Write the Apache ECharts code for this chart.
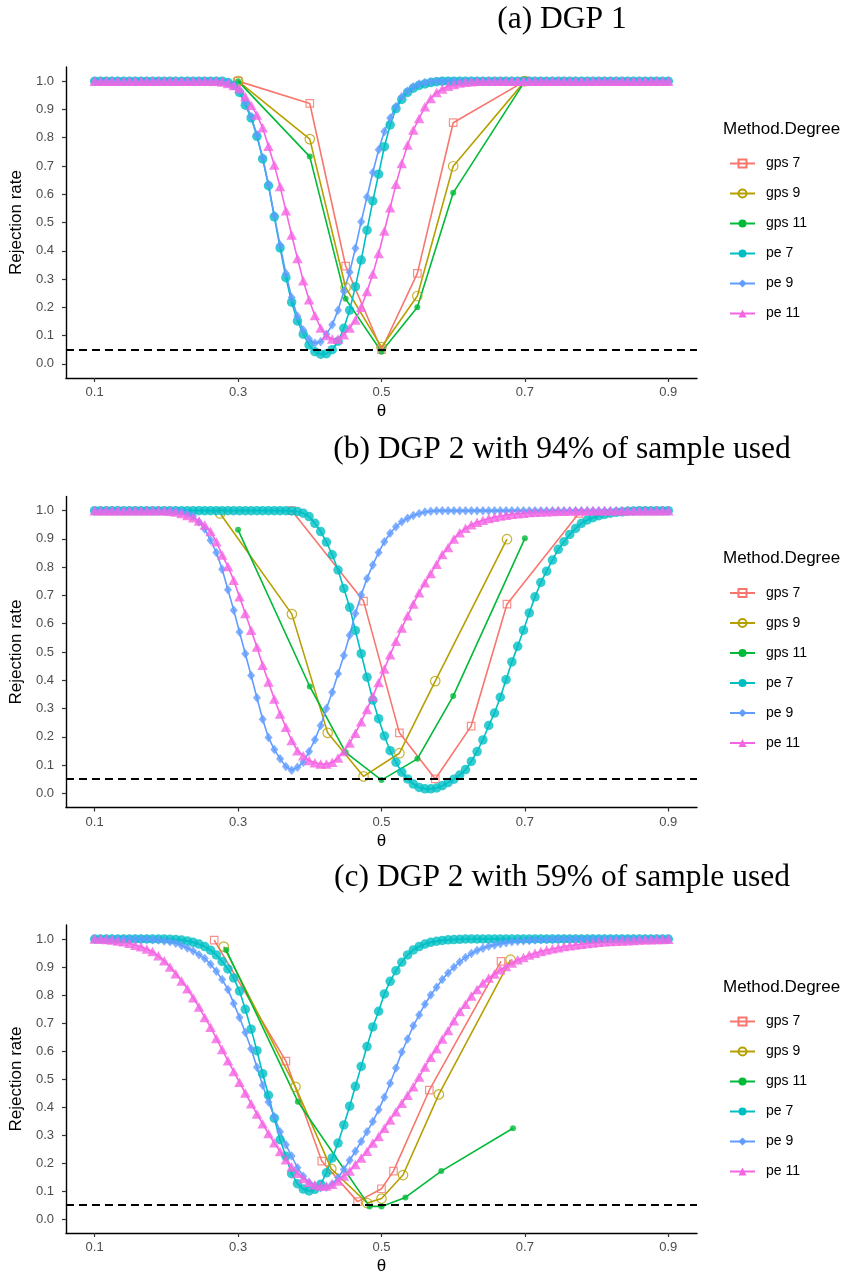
<!DOCTYPE html>
<html><head><meta charset="utf-8">
<script src="https://cdn.jsdelivr.net/npm/echarts@6/dist/echarts.min.js"></script>
<style>html,body{margin:0;padding:0;background:#fff}#c{width:859px;height:1276px}</style>
</head><body><div id="c"></div>
<script>
// ---------- DATA ----------
const theta = [0.1000,0.1081,0.1162,0.1242,0.1323,0.1404,0.1485,0.1566,0.1646,0.1727,
0.1808,0.1889,0.1970,0.2051,0.2131,0.2212,0.2293,0.2374,0.2455,0.2535,
0.2616,0.2697,0.2778,0.2859,0.2939,0.3020,0.3101,0.3182,0.3263,0.3343,
0.3424,0.3505,0.3586,0.3667,0.3747,0.3828,0.3909,0.3990,0.4071,0.4152,
0.4232,0.4313,0.4394,0.4475,0.4556,0.4636,0.4717,0.4798,0.4879,0.4960,
0.5040,0.5121,0.5202,0.5283,0.5364,0.5444,0.5525,0.5606,0.5687,0.5768,
0.5848,0.5929,0.6010,0.6091,0.6172,0.6253,0.6333,0.6414,0.6495,0.6576,
0.6657,0.6737,0.6818,0.6899,0.6980,0.7061,0.7141,0.7222,0.7303,0.7384,
0.7465,0.7545,0.7626,0.7707,0.7788,0.7869,0.7949,0.8030,0.8111,0.8192,
0.8273,0.8354,0.8434,0.8515,0.8596,0.8677,0.8758,0.8838,0.8919,0.9000];

// Panel (a) DGP 1
const pe7_a = [1,1,1,1,1,1,1,1,1,1, 1,1,1,1,1,1,1,1,1,1,
1,1,1,0.995,0.985,0.96,0.915,0.87,0.805,0.725,
0.63,0.52,0.41,0.305,0.218,0.152,0.105,0.067,0.043,0.034,
0.036,0.05,0.08,0.126,0.19,0.273,0.367,0.473,0.576,0.671,
0.768,0.845,0.903,0.935,0.96,0.975,0.985,0.99,0.995,0.998,
1,1,1,1,1,1,1,1,1,1, 1,1,1,1,1,1,1,1,1,1, 1,1,1,1,1,1,1,1,1,1, 1,1,1,1,1,1,1,1,1,1];
const pe9_a = [1,1,1,1,1,1,1,1,1,1, 1,1,1,1,1,1,1,1,1,1,
1,1,1,0.995,0.985,0.965,0.925,0.875,0.81,0.73,
0.635,0.525,0.42,0.32,0.235,0.168,0.12,0.088,0.073,0.078,
0.105,0.138,0.19,0.257,0.324,0.409,0.503,0.59,0.677,0.757,
0.822,0.87,0.91,0.945,0.965,0.98,0.99,0.995,0.998,1,
1,1,1,1,1,1,1,1,1,1, 1,1,1,1,1,1,1,1,1,1, 1,1,1,1,1,1,1,1,1,1, 1,1,1,1,1,1,1,1,1,1];
const pe11_a = [1,1,1,1,1,1,1,1,1,1, 1,1,1,1,1,1,1,1,1,1,
1,1,0.997,0.992,0.985,0.974,0.945,0.915,0.88,0.835,
0.77,0.703,0.627,0.542,0.456,0.373,0.294,0.227,0.171,0.127,
0.1,0.088,0.088,0.103,0.127,0.155,0.2,0.256,0.318,0.39,
0.47,0.552,0.635,0.709,0.774,0.827,0.868,0.909,0.939,0.96,
0.972,0.982,0.988,0.993,0.996,0.998,1,1,1,1,
1,1,1,1,1,1,1,1,1,1, 1,1,1,1,1,1,1,1,1,1, 1,1,1,1,1,1,1,1,1,1];
const gps7x_a = [0.3,0.4,0.45,0.5,0.55,0.6,0.7];
const gps7y_a = [1.0,0.921,0.346,0.05,0.32,0.853,1.0];
const gps9x_a = [0.3,0.4,0.45,0.5,0.55,0.6,0.7];
const gps9y_a = [1.0,0.795,0.27,0.059,0.24,0.699,1.0];
const gps11x_a = [0.3,0.4,0.45,0.5,0.55,0.6,0.7];
const gps11y_a = [1.0,0.733,0.23,0.043,0.2,0.605,1.0];

// Panel (b) DGP 2, 94%
const pe7_b = [1,1,1,1,1,1,1,1,1,1, 1,1,1,1,1,1,1,1,1,1, 1,1,1,1,1,1,1,1,1,1,
1,1,1,1,0.999,0.997,0.991,0.979,0.955,0.926,
0.889,0.844,0.79,0.725,0.658,0.576,0.494,0.411,0.33,0.264,
0.203,0.151,0.11,0.075,0.051,0.033,0.021,0.016,0.016,0.019,
0.027,0.038,0.05,0.065,0.084,0.113,0.148,0.189,0.24,0.284,
0.34,0.402,0.465,0.52,0.577,0.638,0.695,0.746,0.786,0.825,
0.863,0.89,0.916,0.937,0.955,0.967,0.975,0.982,0.987,0.991,
0.994,0.996,0.998,0.999,1,1,1,1,1,1];
const pe9_b = [1,1,1,1,1,1,1,1,1,1,
1,1,1,1,1,0.997,0.99,0.98,0.96,0.935,
0.895,0.852,0.793,0.72,0.648,0.571,0.494,0.417,0.338,0.262,
0.198,0.155,0.122,0.095,0.082,0.092,0.11,0.148,0.19,0.24,
0.3,0.358,0.423,0.488,0.559,0.636,0.702,0.76,0.808,0.852,
0.89,0.92,0.943,0.961,0.973,0.983,0.99,0.995,0.998,1,
1,1,1,1,1,1,1,1,1,1, 1,1,1,1,1,1,1,1,1,1, 1,1,1,1,1,1,1,1,1,1, 1,1,1,1,1,1,1,1,1,1];
const pe11_b = [1,1,1,1,1,1,1,1,1,1,
1,1,1,0.998,0.995,0.99,0.983,0.975,0.963,0.949,
0.926,0.89,0.843,0.802,0.754,0.695,0.636,0.577,0.518,0.453,
0.394,0.334,0.281,0.234,0.187,0.151,0.133,0.116,0.108,0.104,
0.104,0.11,0.125,0.148,0.178,0.213,0.253,0.297,0.343,0.392,
0.44,0.49,0.538,0.585,0.628,0.67,0.71,0.745,0.778,0.81,
0.845,0.87,0.9,0.922,0.938,0.95,0.959,0.966,0.972,0.977,
0.981,0.984,0.987,0.989,0.991,0.993,0.994,0.995,0.996,0.997,
0.998,0.998,0.999,1,1,1,1,1,1,1, 1,1,1,1,1,1,1,1,1,1];
const gps7x_b = [0.375,0.475,0.525,0.575,0.625,0.675,0.775];
const gps7y_b = [1.0,0.68,0.214,0.051,0.238,0.669,0.99];
const gps9x_b = [0.275,0.375,0.425,0.475,0.525,0.575,0.675];
const gps9y_b = [0.99,0.634,0.214,0.06,0.142,0.397,0.899];
const gps11x_b = [0.3,0.4,0.45,0.5,0.55,0.6,0.7];
const gps11y_b = [0.932,0.378,0.145,0.047,0.122,0.344,0.902];

// Panel (c) DGP 2, 59%
const pe7_c = [1,1,1,1,1,1,1,1,1,1,
1,1,1,0.999,0.998,0.996,0.993,0.988,0.982,0.973,
0.96,0.943,0.92,0.893,0.861,0.814,0.749,0.678,0.601,0.519,
0.442,0.36,0.283,0.224,0.162,0.126,0.107,0.1,0.106,0.124,
0.165,0.218,0.271,0.336,0.403,0.474,0.545,0.616,0.686,0.742,
0.804,0.849,0.887,0.917,0.943,0.961,0.973,0.982,0.988,0.992,
0.995,0.997,0.998,0.999,1,1,1,1,1,1,
1,1,1,1,1,1,1,1,1,1, 1,1,1,1,1,1,1,1,1,1, 1,1,1,1,1,1,1,1,1,1];
const pe9_c = [1,1,1,1,1,1,1,1,1,1,
0.998,0.996,0.993,0.99,0.985,0.977,0.968,0.957,0.944,0.93,
0.91,0.885,0.855,0.82,0.77,0.72,0.666,0.608,0.542,0.478,
0.418,0.365,0.312,0.265,0.225,0.183,0.153,0.13,0.118,0.112,
0.113,0.125,0.148,0.177,0.21,0.242,0.277,0.312,0.348,0.39,
0.435,0.485,0.539,0.596,0.643,0.69,0.729,0.767,0.8,0.828,
0.855,0.879,0.899,0.918,0.934,0.948,0.959,0.967,0.974,0.979,
0.983,0.987,0.99,0.992,0.994,0.995,0.996,0.997,0.998,0.999,
1,1,1,1,1,1,1,1,1,1, 1,1,1,1,1,1,1,1,1,1];
const pe11_c = [1,1,0.998,0.996,0.993,0.99,0.985,0.978,0.972,0.964,
0.955,0.94,0.922,0.9,0.876,0.85,0.822,0.79,0.757,0.72,
0.685,0.645,0.605,0.565,0.527,0.488,0.45,0.412,0.375,0.34,
0.305,0.272,0.241,0.212,0.186,0.163,0.145,0.131,0.122,0.118,
0.118,0.124,0.136,0.154,0.171,0.195,0.218,0.242,0.271,0.295,
0.324,0.354,0.383,0.413,0.442,0.472,0.507,0.543,0.578,0.608,
0.643,0.673,0.708,0.741,0.767,0.796,0.82,0.843,0.861,0.875,
0.89,0.902,0.914,0.926,0.934,0.943,0.949,0.955,0.961,0.965,
0.969,0.973,0.976,0.979,0.981,0.984,0.986,0.988,0.99,0.991,
0.992,0.993,0.994,0.995,0.996,0.997,0.997,0.998,0.998,0.999];
const gps7x_c = [0.2667,0.3667,0.4167,0.4667,0.5,0.5167,0.5667,0.6667];
const gps7y_c = [0.996,0.564,0.207,0.062,0.108,0.171,0.46,0.92];
const gps9x_c = [0.28,0.38,0.43,0.48,0.5,0.53,0.58,0.68];
const gps9y_c = [0.973,0.472,0.179,0.057,0.073,0.157,0.445,0.926];
const gps11x_c = [0.2834,0.3834,0.4834,0.5,0.5334,0.5834,0.6834];
const gps11y_c = [0.961,0.419,0.045,0.045,0.077,0.171,0.324];

const panelTitles = ['(a) DGP 1', '(b) DGP 2 with 94% of sample used', '(c) DGP 2 with 59% of sample used'];
const seriesNames = ['gps 7','gps 9','gps 11','pe 7','pe 9','pe 11'];
const xTicks = [0.1,0.3,0.5,0.7,0.9];
const yTicks = [0,0.1,0.2,0.3,0.4,0.5,0.6,0.7,0.8,0.9,1.0];
const refLevel = 0.05;

// ---------- STYLE / LAYOUT ----------
const panelTops = [67, 496.5, 925];
const gridLeft = 64, gridWidth = 633, gridHeight = 311;
const style = {
  'gps 7':  {color:'#F8766D', symbol:'rect',    size:7.5,    open:true},
  'gps 9':  {color:'#B79F00', symbol:'circle',  size:9.5,    open:true},
  'gps 11': {color:'#00BA38', symbol:'circle',  size:6,      open:false},
  'pe 7':   {color:'#00BFC4', symbol:'circle',  size:9.5,    open:false},
  'pe 9':   {color:'#619CFF', symbol:'diamond', size:[8,9.5],  open:false},
  'pe 11':  {color:'#F564E3', symbol:'triangle',size:[10.5,9.5], open:false}
};
const SANS = '"Liberation Sans", Arial, sans-serif';

function pairs(xs, ys){ return xs.map((x,k)=>[x, ys[k]]); }
const panelData = [
  {'gps 7':pairs(gps7x_a,gps7y_a),'gps 9':pairs(gps9x_a,gps9y_a),'gps 11':pairs(gps11x_a,gps11y_a),
   'pe 7':pairs(theta,pe7_a),'pe 9':pairs(theta,pe9_a),'pe 11':pairs(theta,pe11_a)},
  {'gps 7':pairs(gps7x_b,gps7y_b),'gps 9':pairs(gps9x_b,gps9y_b),'gps 11':pairs(gps11x_b,gps11y_b),
   'pe 7':pairs(theta,pe7_b),'pe 9':pairs(theta,pe9_b),'pe 11':pairs(theta,pe11_b)},
  {'gps 7':pairs(gps7x_c,gps7y_c),'gps 9':pairs(gps9x_c,gps9y_c),'gps 11':pairs(gps11x_c,gps11y_c),
   'pe 7':pairs(theta,pe7_c),'pe 9':pairs(theta,pe9_c),'pe 11':pairs(theta,pe11_c)}
];

function itemStyleFor(s){
  return s.open ? {color:'rgba(255,255,255,0)', borderColor:s.color, borderWidth:1.2}
                : {color:s.color, borderWidth:0};
}

const grids=[], xAxes=[], yAxes=[], series=[], legends=[], graphics=[];
panelTops.forEach((top,p)=>{
  grids.push({left:gridLeft, top:top, width:gridWidth, height:gridHeight});
  xAxes.push({type:'value', gridIndex:p, min:0.06, max:0.94,
    axisLine:{show:true, onZero:false, lineStyle:{color:'#000', width:1.4}},
    axisTick:{show:true, length:4, lineStyle:{color:'#333', width:1.2}, customValues:xTicks},
    axisLabel:{show:true, customValues:xTicks, formatter:v=>v.toFixed(1), color:'#4D4D4D', fontSize:13, fontFamily:SANS, margin:8},
    splitLine:{show:false},
    name:'θ', nameLocation:'middle', nameGap:25, nameTextStyle:{color:'#000', fontSize:17, fontFamily:SANS}});
  yAxes.push({type:'value', gridIndex:p, min:-0.05, max:1.05,
    axisLine:{show:true, onZero:false, lineStyle:{color:'#000', width:1.4}},
    axisTick:{show:true, length:4, lineStyle:{color:'#333', width:1.2}, customValues:yTicks},
    axisLabel:{show:true, customValues:yTicks, formatter:v=>v.toFixed(1), color:'#4D4D4D', fontSize:13, fontFamily:SANS, margin:12},
    splitLine:{show:false},
    name:'Rejection rate', nameLocation:'middle', nameGap:34, nameTextStyle:{color:'#000', fontSize:17, fontFamily:SANS}});
  // lines first (under all points)
  seriesNames.forEach((nm,k)=>{
    const s = style[nm];
    const ser = {type:'line', name:nm, xAxisIndex:p, yAxisIndex:p, data:panelData[p][nm],
      showSymbol:false, symbol:s.symbol, symbolSize:s.size,
      lineStyle:{color:s.color, width:1.6}, itemStyle:itemStyleFor(s),
      silent:true, animation:false, emphasis:{disabled:true}, z:2};
    if(k===0){
      ser.markLine = {silent:true, symbol:['none','none'], animation:false, label:{show:false},
        lineStyle:{color:'#000', width:1.8, type:[8,5]}, data:[{yAxis:refLevel}]};
    }
    series.push(ser);
  });
  seriesNames.forEach((nm)=>{
    const s = style[nm];
    series.push({type:'scatter', name:nm, xAxisIndex:p, yAxisIndex:p, data:panelData[p][nm],
      symbol:s.symbol, symbolSize:s.size, itemStyle:itemStyleFor(s),
      silent:true, animation:false, emphasis:{disabled:true}, z:3});
  });
  const off = top - 67;
  legends.push({orient:'vertical', left:729, top:156.5+off, padding:0,
    itemWidth:25, itemHeight:10, itemGap:16, selectedMode:false,
    data:seriesNames, textStyle:{color:'#000', fontSize:14, fontFamily:SANS, padding:[0,0,0,6]}});
  graphics.push({type:'text', x:723, y:129.3+off, silent:true,
    style:{text:'Method.Degree', fontSize:17, fontFamily:SANS, fill:'#000', align:'left', verticalAlign:'middle'}});
  graphics.push({type:'text', x:562, y:20+off, silent:true,
    style:{text:panelTitles[p], fontSize:31.5, fontFamily:'"Liberation Serif", "Times New Roman", serif', fill:'#000', align:'center', verticalAlign:'middle'}});
});

const chart = echarts.init(document.getElementById('c'), null, {renderer:'canvas'});
chart.setOption({
  backgroundColor:'#fff', animation:false,
  grid:grids, xAxis:xAxes, yAxis:yAxes, series:series, legend:legends, graphic:graphics
});
</script></body></html>
